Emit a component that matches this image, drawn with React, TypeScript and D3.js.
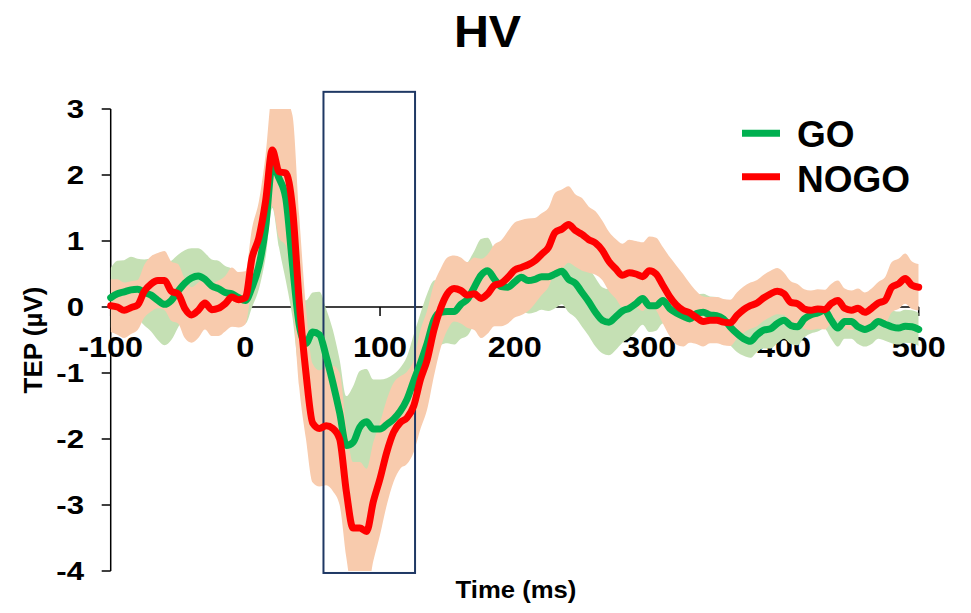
import React from "react";
import * as d3 from "d3";

// Sample times (ms), every 5 ms from -100 to 500
const times: number[] = d3.range(-100, 501, 5);

// Mean TEP amplitude (µV), GO condition
const goMean: number[] = [
  0.14, 0.2, 0.23, 0.26, 0.27, 0.22, 0.18, 0.1, 0.04, 0.1,
  0.24, 0.36, 0.44, 0.47, 0.42, 0.32, 0.28, 0.22, 0.2, 0.14,
  0.1, 0.3, 0.62, 1.2, 2.15, 1.95, 1.65, 0.64, -0.27, -0.55,
  -0.38, -0.42, -0.75, -1.15, -1.6, -2.1, -2.05, -1.82, -1.74, -1.85,
  -1.85, -1.78, -1.7, -1.58, -1.4, -1.12, -0.85, -0.55, -0.2, -0.08,
  -0.07, -0.07, 0.04, 0.12, 0.3, 0.48, 0.55, 0.42, 0.31, 0.3,
  0.38, 0.45, 0.4, 0.42, 0.46, 0.46, 0.5, 0.54, 0.42, 0.36,
  0.22, 0.08, -0.08, -0.2, -0.23, -0.15, -0.06, -0.02, 0.05, 0.13,
  0.02, 0.02, 0.1, -0.02, -0.09, -0.14, -0.18, -0.1, -0.08, -0.12,
  -0.13, -0.18, -0.3, -0.4, -0.48, -0.52, -0.42, -0.35, -0.33, -0.25,
  -0.2, -0.28, -0.3, -0.18, -0.12, -0.09, -0.05, -0.2, -0.32, -0.22,
  -0.22, -0.3, -0.34, -0.3, -0.22, -0.26, -0.3, -0.32, -0.29, -0.3,
  -0.34,
];

// Standard error (µV), GO condition
const goSe: number[] = [
  0.45, 0.5, 0.48, 0.5, 0.46, 0.5, 0.55, 0.6, 0.62, 0.6,
  0.55, 0.5, 0.45, 0.42, 0.4, 0.4, 0.42, 0.4, 0.38, 0.32,
  0.35, 0.3, 0.35, 0.45, 0.65, 1.05, 1.25, 0.8, 0.7, 0.65,
  0.6, 0.65, 0.72, 0.8, 0.8, 0.75, 0.85, 0.85, 0.8, 0.75,
  0.75, 0.7, 0.68, 0.66, 0.65, 0.7, 0.75, 0.75, 0.6, 0.5,
  0.48, 0.5, 0.52, 0.55, 0.55, 0.55, 0.5, 0.45, 0.45, 0.48,
  0.5, 0.5, 0.5, 0.5, 0.5, 0.52, 0.52, 0.5, 0.5, 0.52,
  0.52, 0.52, 0.52, 0.5, 0.5, 0.5, 0.48, 0.45, 0.42, 0.4,
  0.4, 0.38, 0.35, 0.32, 0.3, 0.3, 0.3, 0.28, 0.28, 0.28,
  0.28, 0.28, 0.28, 0.28, 0.26, 0.25, 0.26, 0.28, 0.3, 0.3,
  0.28, 0.28, 0.28, 0.28, 0.28, 0.28, 0.28, 0.28, 0.28, 0.26,
  0.26, 0.26, 0.26, 0.26, 0.26, 0.25, 0.25, 0.25, 0.25, 0.25,
  0.25,
];

// Mean TEP amplitude (µV), NOGO condition
const nogoMean: number[] = [
  0.02, 0.0, -0.05, -0.01, 0.03, 0.24, 0.35, 0.4, 0.4, 0.24,
  0.2, -0.02, -0.12, -0.05, 0.06, -0.04, -0.02, 0.05, 0.15, 0.11,
  0.14, 0.75, 1.05, 1.6, 2.38, 2.05, 2.03, 1.5, 0.08, -1.0,
  -1.76, -1.84, -1.8, -1.84, -2.0, -2.8, -3.35, -3.35, -3.4, -2.95,
  -2.6, -2.2, -1.9, -1.75, -1.68, -1.5, -1.1, -0.8, -0.35, -0.02,
  0.2, 0.28, 0.25, 0.18, 0.2, 0.13, 0.2, 0.33, 0.36, 0.45,
  0.56, 0.6, 0.64, 0.7, 0.8, 0.9, 1.13, 1.18, 1.25, 1.16,
  1.1, 1.02, 0.97, 0.86, 0.69, 0.58, 0.48, 0.52, 0.5, 0.46,
  0.55, 0.5, 0.33, 0.16, 0.03, -0.05, -0.09, -0.16, -0.22, -0.2,
  -0.2, -0.23, -0.24, -0.13, -0.04, 0.02, 0.06, 0.14, 0.2, 0.24,
  0.2, 0.07, 0.05, -0.03, -0.05, -0.03, -0.04, 0.05, 0.1, -0.02,
  -0.05, -0.02, -0.08, -0.02, 0.06, 0.1, 0.3, 0.35, 0.43, 0.33,
  0.3,
];

// Standard error (µV), NOGO condition
const nogoSe: number[] = [
  0.4, 0.42, 0.42, 0.4, 0.38, 0.4, 0.42, 0.42, 0.45, 0.45,
  0.45, 0.45, 0.42, 0.42, 0.4, 0.4, 0.42, 0.42, 0.45, 0.42,
  0.4, 0.45, 0.55, 0.7, 0.85, 1.0, 1.1, 1.4, 1.3, 1.0,
  0.9, 0.88, 0.9, 0.95, 1.0, 1.0, 1.0, 1.0, 0.95, 0.9,
  0.85, 0.8, 0.75, 0.7, 0.7, 0.7, 0.75, 0.75, 0.7, 0.6,
  0.55, 0.5, 0.5, 0.5, 0.55, 0.6, 0.6, 0.62, 0.65, 0.7,
  0.72, 0.72, 0.7, 0.65, 0.62, 0.6, 0.6, 0.6, 0.58, 0.55,
  0.55, 0.5, 0.48, 0.45, 0.45, 0.45, 0.48, 0.5, 0.5, 0.52,
  0.52, 0.55, 0.58, 0.6, 0.6, 0.55, 0.45, 0.4, 0.38, 0.35,
  0.35, 0.35, 0.35, 0.35, 0.35, 0.35, 0.35, 0.35, 0.35, 0.35,
  0.32, 0.32, 0.3, 0.3, 0.3, 0.3, 0.3, 0.3, 0.3, 0.3,
  0.3, 0.3, 0.3, 0.3, 0.32, 0.35, 0.38, 0.38, 0.38, 0.36,
  0.35,
];

const xTicks: number[] = [-100, 0, 100, 200, 300, 400, 500];
const yTicks: number[] = [-4, -3, -2, -1, 0, 1, 2, 3];

// Analysis window highlighted on the plot (ms, µV)
const windowMs: [number, number] = [58, 126];
const windowUv: [number, number] = [-4.03, 3.26];

const seriesNames = ["GO", "NOGO"];

const W = 971;
const H = 613;
const FONT = "'Liberation Sans', Arial, Helvetica, sans-serif";

const GREEN = "#00b050";
const RED = "#ff0000";
const GREEN_BAND = "#c5e0b4";
const RED_BAND = "#f8cbad";
const NAVY = "#1f3864";

type Pt = { t: number; m: number; s: number };

export default function App() {
  const x = d3.scaleLinear().domain([-100, 500]).range([110.7, 918.7]);
  const y = d3.scaleLinear().domain([-4, 3]).range([571, 109]);

  const go: Pt[] = times.map((t, i) => ({ t, m: goMean[i], s: goSe[i] }));
  const nogo: Pt[] = times.map((t, i) => ({ t, m: nogoMean[i], s: nogoSe[i] }));

  const band = d3
    .area<Pt>()
    .x((d) => x(d.t))
    .y0((d) => y(d.m - d.s))
    .y1((d) => y(d.m + d.s))
    .curve(d3.curveMonotoneX);

  const line = d3
    .line<Pt>()
    .x((d) => x(d.t))
    .y((d) => y(d.m))
    .curve(d3.curveMonotoneX);

  const x0 = x(-100);
  const x1 = x(500);
  const yTop = y(3);
  const yBot = y(-4);
  const y0 = y(0);

  return (
    <svg
      width={W}
      height={H}
      viewBox={`0 0 ${W} ${H}`}
      style={{ position: "absolute", left: 0, top: 0, background: "#fff" }}
      fontFamily={FONT}
      fontWeight="bold"
    >
      <defs>
        <clipPath id="plotClip">
          <rect x={x0} y={yTop} width={x1 - x0} height={yBot - yTop} />
        </clipPath>
      </defs>

      {/* title */}
      <text
        transform={`translate(${487.5},47) scale(1.1,1)`}
        textAnchor="middle"
        fontSize={44}
        fill="#000"
      >
        HV
      </text>

      {/* y axis */}
      <line x1={x0} x2={x0} y1={yTop} y2={yBot} stroke="#000" strokeWidth={1.5} />
      {yTicks.map((v) => (
        <g key={`y${v}`}>
          <line x1={x0 - 9} x2={x0} y1={y(v)} y2={y(v)} stroke="#000" strokeWidth={1.5} />
          <text
            transform={`translate(84,${y(v) + 9.3}) scale(1.2,1)`}
            textAnchor="end"
            fontSize={26}
            fill="#000"
          >
            {v}
          </text>
        </g>
      ))}

      {/* x axis at 0 µV */}
      <line x1={x0} x2={x1} y1={y0} y2={y0} stroke="#000" strokeWidth={1.5} />
      {xTicks.map((t) => (
        <g key={`x${t}`}>
          <line x1={x(t)} x2={x(t)} y1={y0} y2={y0 + 9} stroke="#000" strokeWidth={1.5} />
          <text
            transform={`translate(${x(t)},357) scale(1.08,1)`}
            textAnchor="middle"
            fontSize={30}
            fill="#000"
          >
            {t}
          </text>
        </g>
      ))}

      {/* SE bands */}
      <g clipPath="url(#plotClip)">
        <path d={band(go) ?? ""} fill={GREEN_BAND} stroke="none" />
        <path d={band(nogo) ?? ""} fill={RED_BAND} stroke="none" />
      </g>

      {/* analysis window */}
      <rect
        x={x(windowMs[0])}
        y={y(windowUv[1])}
        width={x(windowMs[1]) - x(windowMs[0])}
        height={y(windowUv[0]) - y(windowUv[1])}
        fill="none"
        stroke={NAVY}
        strokeWidth={2}
      />

      {/* mean waveforms */}
      <path
        d={line(go) ?? ""}
        fill="none"
        stroke={GREEN}
        strokeWidth={7}
        strokeLinejoin="round"
        strokeLinecap="round"
      />
      <path
        d={line(nogo) ?? ""}
        fill="none"
        stroke={RED}
        strokeWidth={7}
        strokeLinejoin="round"
        strokeLinecap="round"
      />

      {/* axis titles */}
      <text
        transform={`translate(42,340) rotate(-90)`}
        textAnchor="middle"
        fontSize={26}
        fill="#000"
      >
        TEP (µV)
      </text>
      <text
        transform={`translate(516,598) scale(1.07,1)`}
        textAnchor="middle"
        fontSize={24}
        fill="#000"
      >
        Time (ms)
      </text>

      {/* legend */}
      {seriesNames.map((name, i) => (
        <g key={name}>
          <line
            x1={742}
            x2={780}
            y1={133.3 + i * 43.4}
            y2={133.3 + i * 43.4}
            stroke={i === 0 ? GREEN : RED}
            strokeWidth={7}
          />
          <text x={797} y={146.7 + i * 45} fontSize={37} fill="#000">
            {name}
          </text>
        </g>
      ))}
    </svg>
  );
}
